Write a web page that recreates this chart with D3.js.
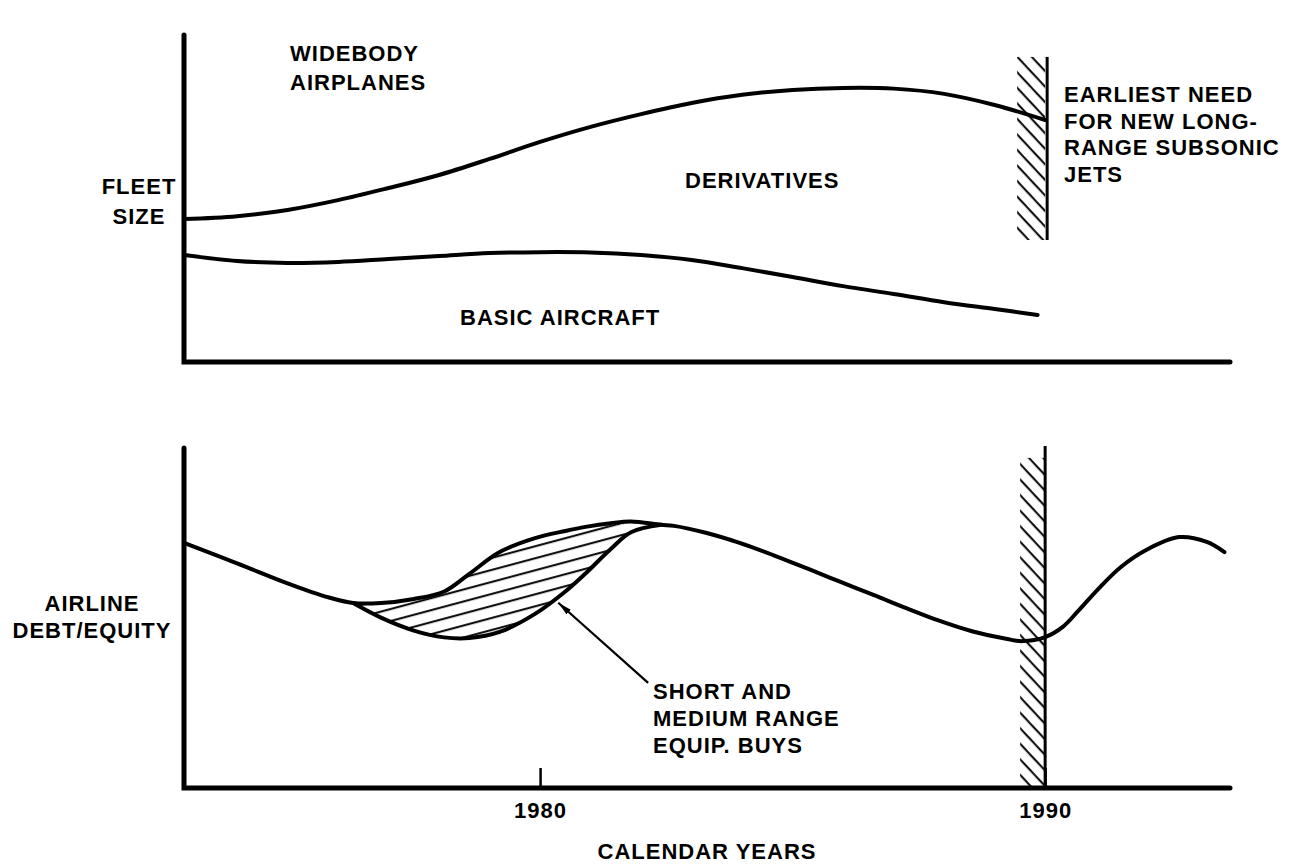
<!DOCTYPE html>
<html>
<head>
<meta charset="utf-8">
<title>Fleet size and airline debt/equity</title>
<script src="https://cdn.jsdelivr.net/npm/d3@7"></script>
<style>
  body { margin: 0; background: #fff; }
  svg text {
    font-family: "Liberation Sans", Arial, sans-serif;
    font-weight: bold;
    font-size: 22px;
    letter-spacing: 1px;
    fill: #000;
  }
</style>
</head>
<body>
<div id="chart"></div>
<script>
// values are relative heights (0-100) inside each panel
// top panel: widebody fleet size
var derivYears  = [1972.95, 1974, 1975, 1976, 1977, 1978, 1979, 1980, 1981, 1982, 1983, 1984, 1985, 1986, 1987, 1988, 1989, 1990];
var derivValues = [43.7, 44.6, 46.5, 49.5, 53.2, 57.2, 62.1, 67.3, 71.9, 75.8, 79.2, 81.7, 83.2, 83.8, 83.6, 82.0, 78.6, 74.0];

var basicYears  = [1972.95, 1974, 1975, 1976, 1977, 1978, 1979, 1980, 1981, 1982, 1983, 1984, 1985, 1986, 1987, 1988, 1989, 1989.85];
var basicValues = [32.7, 30.9, 30.3, 30.6, 31.5, 32.4, 33.3, 33.6, 33.5, 32.7, 31.2, 28.7, 26.0, 23.2, 20.8, 18.3, 16.2, 14.4];

// bottom panel: airline debt/equity
var debtPreYears  = [1972.95, 1974, 1975, 1975.8, 1976.3];
var debtPreValues = [72.1, 66.1, 60.2, 56.1, 54.4];

// the two branches around the short/medium range equipment buys
var buyYears   = [1976.3, 1976.85, 1977.5, 1978.1, 1978.6, 1979.2, 1979.9, 1980.5, 1980.9, 1981.4, 1981.8, 1982.4];
var buyUpper   = [54.4, 54.4, 55.6, 57.8, 63.0, 69.4, 73.5, 75.6, 76.8, 77.9, 78.4, 77.4];
var buyLower   = [54.4, 50.1, 46.3, 44.3, 44.1, 45.9, 51.2, 57.8, 63.1, 70.3, 75.2, 77.4];

var debtPostYears  = [1982.4, 1982.65, 1983.3, 1983.95, 1984.6, 1985.3, 1985.95, 1986.6, 1987.25, 1987.9, 1988.55, 1989.25, 1989.55, 1990.0, 1990.35, 1990.65, 1991.05, 1991.5, 1992.0, 1992.65, 1993.2, 1993.55];
var debtPostValues = [77.4, 77.1, 75.0, 72.1, 68.6, 64.5, 60.6, 56.8, 52.9, 49.2, 46.1, 43.8, 43.2, 44.4, 47.4, 52.0, 58.5, 65.0, 70.0, 73.8, 72.4, 69.4];

var tickYears = [1980, 1990];
var needYear = 1990;
var topNeedRange = [37.3, 93.3];
var botNeedRange = [0, 97.1];
var botNeedLine  = [0, 100.6];
var arrowFrom = [1982.14, 30.9];
var arrowTo   = [1980.36, 54.5];

var width = 1291, height = 867;

var x = d3.scaleLinear().domain([1972.95, 1993.66]).range([184, 1230]);
var yTop = d3.scaleLinear().domain([0, 100]).range([362, 35]);
var yBot = d3.scaleLinear().domain([0, 100]).range([788, 448]);

var svg = d3.select("#chart").append("svg")
    .attr("width", width)
    .attr("height", height);

var defs = svg.append("defs");

// hatch for the 1990 bars ("\" lines)
defs.append("pattern")
    .attr("id", "barHatch")
    .attr("patternUnits", "userSpaceOnUse")
    .attr("width", 20)
    .attr("height", 10.6)
    .attr("patternTransform", "rotate(47)")
  .append("line")
    .attr("x1", 0).attr("x2", 20)
    .attr("y1", 5).attr("y2", 5)
    .attr("stroke", "#000")
    .attr("stroke-width", 2);

// hatch for the equipment buys area ("/" lines)
defs.append("pattern")
    .attr("id", "buyHatch")
    .attr("patternUnits", "userSpaceOnUse")
    .attr("width", 30)
    .attr("height", 11.6)
    .attr("patternTransform", "rotate(-15)")
  .append("line")
    .attr("x1", 0).attr("x2", 30)
    .attr("y1", 5).attr("y2", 5)
    .attr("stroke", "#000")
    .attr("stroke-width", 2);

defs.append("marker")
    .attr("id", "arrowhead")
    .attr("viewBox", "0 0 14 8")
    .attr("refX", 14)
    .attr("refY", 4)
    .attr("markerWidth", 14)
    .attr("markerHeight", 8)
    .attr("markerUnits", "userSpaceOnUse")
    .attr("orient", "auto")
  .append("path")
    .attr("d", "M0,0.8L14,4L0,7.2Z")
    .attr("fill", "#000");

function zip(xs, ys) {
    return xs.map(function(d, i) { return [d, ys[i]]; });
}

var smooth = d3.curveCatmullRom.alpha(0.5);

var lineTop = d3.line()
    .x(function(d) { return x(d[0]); })
    .y(function(d) { return yTop(d[1]); })
    .curve(smooth);

var lineBot = d3.line()
    .x(function(d) { return x(d[0]); })
    .y(function(d) { return yBot(d[1]); })
    .curve(smooth);

// ---------- top panel ----------
var topG = svg.append("g");

// 1990 bar
topG.append("rect")
    .attr("x", x(needYear) - 28)
    .attr("y", yTop(topNeedRange[1]))
    .attr("width", 28)
    .attr("height", yTop(topNeedRange[0]) - yTop(topNeedRange[1]))
    .attr("fill", "url(#barHatch)");

topG.append("line")
    .attr("x1", x(needYear) + 2).attr("x2", x(needYear) + 2)
    .attr("y1", yTop(topNeedRange[1])).attr("y2", yTop(topNeedRange[0]))
    .attr("stroke", "#000")
    .attr("stroke-width", 3);

topG.append("path")
    .datum(zip(derivYears, derivValues))
    .attr("fill", "none")
    .attr("stroke", "#000")
    .attr("stroke-width", 4)
    .attr("stroke-linecap", "round")
    .attr("d", lineTop);

topG.append("path")
    .datum(zip(basicYears, basicValues))
    .attr("fill", "none")
    .attr("stroke", "#000")
    .attr("stroke-width", 4)
    .attr("stroke-linecap", "round")
    .attr("d", lineTop);

topG.append("path")
    .attr("d", "M" + x.range()[0] + "," + yTop(100) + "V" + yTop(0) + "H" + x.range()[1])
    .attr("fill", "none")
    .attr("stroke", "#000")
    .attr("stroke-width", 5)
    .attr("stroke-linecap", "round");

// ---------- bottom panel ----------
var botG = svg.append("g");

botG.append("rect")
    .attr("x", x(needYear) - 25)
    .attr("y", yBot(botNeedRange[1]))
    .attr("width", 25)
    .attr("height", yBot(botNeedRange[0]) - yBot(botNeedRange[1]))
    .attr("fill", "url(#barHatch)");

botG.append("line")
    .attr("x1", x(needYear)).attr("x2", x(needYear))
    .attr("y1", yBot(botNeedLine[1])).attr("y2", yBot(botNeedLine[0]))
    .attr("stroke", "#000")
    .attr("stroke-width", 3);

var buyData = buyYears.map(function(d, i) { return [d, buyLower[i], buyUpper[i]]; });

botG.append("path")
    .datum(buyData)
    .attr("fill", "url(#buyHatch)")
    .attr("d", d3.area()
        .x(function(d) { return x(d[0]); })
        .y0(function(d) { return yBot(d[1]); })
        .y1(function(d) { return yBot(d[2]); })
        .curve(smooth));

var mainDebt = zip(debtPreYears, debtPreValues)
    .concat(zip(buyYears, buyUpper).slice(1))
    .concat(zip(debtPostYears, debtPostValues).slice(1));

botG.append("path")
    .datum(mainDebt)
    .attr("fill", "none")
    .attr("stroke", "#000")
    .attr("stroke-width", 4)
    .attr("stroke-linecap", "round")
    .attr("d", lineBot);

botG.append("path")
    .datum(zip(buyYears, buyLower))
    .attr("fill", "none")
    .attr("stroke", "#000")
    .attr("stroke-width", 4)
    .attr("stroke-linecap", "round")
    .attr("d", lineBot);

// pointer to the shaded buys
botG.append("line")
    .attr("x1", x(arrowFrom[0])).attr("y1", yBot(arrowFrom[1]))
    .attr("x2", x(arrowTo[0])).attr("y2", yBot(arrowTo[1]))
    .attr("stroke", "#000")
    .attr("stroke-width", 2.2)
    .attr("marker-end", "url(#arrowhead)");

var xAxis = d3.axisBottom(x)
    .tickValues(tickYears)
    .tickFormat(d3.format("d"))
    .tickSizeInner(-20)
    .tickSizeOuter(0)
    .tickPadding(14);

var axisG = botG.append("g")
    .attr("transform", "translate(0," + yBot(0) + ")")
    .call(xAxis);
axisG.select(".domain").remove();
axisG.selectAll(".tick line")
    .attr("stroke", "#000")
    .attr("stroke-width", 2.5);

botG.append("path")
    .attr("d", "M" + x.range()[0] + "," + yBot(100) + "V" + yBot(0) + "H" + x.range()[1])
    .attr("fill", "none")
    .attr("stroke", "#000")
    .attr("stroke-width", 5)
    .attr("stroke-linecap", "round");

// ---------- labels ----------
function label(lines, px, py, anchor, lead) {
    var t = svg.append("text")
        .attr("x", px)
        .attr("y", py)
        .style("text-anchor", anchor || "start");
    lines.forEach(function(s, i) {
        t.append("tspan")
            .attr("x", px)
            .attr("dy", i === 0 ? 0 : lead)
            .text(s);
    });
}

label(["WIDEBODY", "AIRPLANES"], 290, 61, "start", 29);
label(["FLEET", "SIZE"], 139, 194, "middle", 30);
label(["DERIVATIVES"], 685, 188);
label(["BASIC AIRCRAFT"], 460, 325);
label(["EARLIEST NEED", "FOR NEW LONG-", "RANGE SUBSONIC", "JETS"], 1064, 102, "start", 26.7);
label(["AIRLINE", "DEBT/EQUITY"], 92, 611, "middle", 27);
label(["SHORT AND", "MEDIUM RANGE", "EQUIP. BUYS"], 653, 699, "start", 27);
label(["CALENDAR YEARS"], 707, 859, "middle");
</script>
</body>
</html>
